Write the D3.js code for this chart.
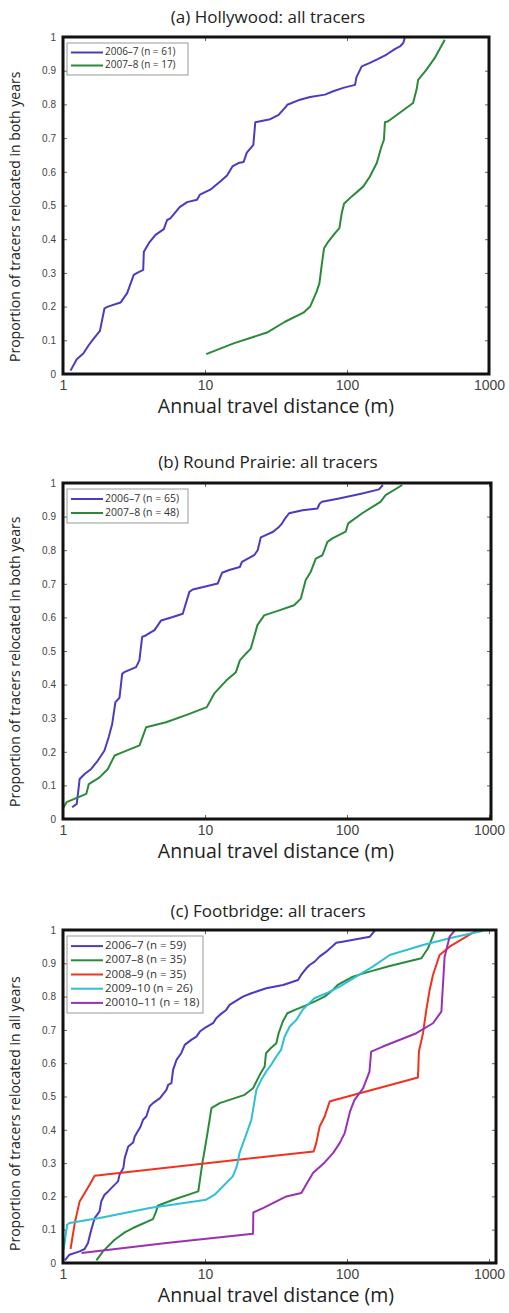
<!DOCTYPE html>
<html>
<head>
<meta charset="utf-8">
<script src="https://cdn.jsdelivr.net/npm/d3@7"></script>
<style>
  body { margin: 0; background: #fff; }
  svg { display: block; font-family: "Open Sans", "Noto Sans", sans-serif; }
  .tick text { fill: #444; }
</style>
</head>
<body>
<div id="chart"></div>
<script>
// Axis ticks
const xTicks = [1, 10, 100, 1000];
const yTicks = [0, 0.1, 0.2, 0.3, 0.4, 0.5, 0.6, 0.7, 0.8, 0.9, 1];

// (a) Hollywood, [distance m, proportion]
const hollywood0607 = [[1.13,0.01],[1.25,0.044],[1.39,0.061],[1.52,0.086],[1.65,0.106],[1.82,0.128],[1.96,0.195],[2.07,0.2],[2.54,0.212],[2.83,0.24],[3.15,0.294],[3.33,0.3],[3.67,0.309],[3.71,0.363],[4.02,0.388],[4.48,0.413],[5.13,0.43],[5.41,0.457],[5.7,0.462],[6.63,0.495],[7.48,0.51],[8.79,0.517],[9.2,0.532],[10.9,0.547],[12.8,0.571],[14.3,0.589],[15.6,0.616],[17.2,0.626],[18.7,0.629],[19.7,0.657],[21.4,0.675],[21.9,0.68],[22.6,0.747],[24.5,0.75],[28.8,0.756],[33,0.769],[37.3,0.794],[38,0.799],[46.7,0.814],[55,0.822],[70,0.829],[80,0.839],[94,0.849],[114,0.858],[116.6,0.881],[127,0.913],[145,0.923],[166,0.935],[190,0.948],[217,0.964],[236,0.972],[249,0.982],[255,0.997]];
const hollywood0708 = [[10.2,0.059],[15.9,0.091],[27.3,0.123],[36.6,0.155],[49.3,0.182],[55,0.2],[61.2,0.245],[63.9,0.269],[66.4,0.324],[68.9,0.373],[73.9,0.393],[82.4,0.418],[88.4,0.433],[91.8,0.477],[95.3,0.505],[108,0.527],[130,0.556],[145,0.586],[162,0.626],[175,0.675],[182,0.695],[185,0.747],[195,0.75],[242,0.779],[292,0.804],[309,0.844],[317,0.873],[363,0.903],[415,0.938],[488,0.992]];

// (b) Round Prairie
const prairie0607 = [[1.16,0.035],[1.25,0.045],[1.31,0.119],[1.42,0.134],[1.58,0.149],[1.76,0.174],[1.96,0.204],[2.1,0.244],[2.22,0.283],[2.34,0.348],[2.5,0.361],[2.61,0.432],[2.7,0.437],[3.27,0.452],[3.45,0.472],[3.61,0.542],[3.85,0.547],[4.41,0.562],[4.91,0.591],[5.93,0.601],[6.97,0.611],[7.76,0.676],[8.2,0.683],[9.9,0.691],[12.3,0.701],[13.2,0.733],[14.8,0.741],[17.6,0.75],[18.2,0.765],[22.2,0.785],[23.5,0.8],[24.7,0.838],[26.8,0.845],[30.2,0.855],[33.3,0.87],[34.9,0.88],[36.7,0.895],[39.1,0.91],[48.6,0.919],[61.9,0.924],[64.3,0.939],[66.7,0.944],[87.9,0.954],[128,0.969],[168,0.981],[179,0.994]];
const prairie0708 = [[1.01,0.035],[1.06,0.05],[1.46,0.075],[1.52,0.104],[1.81,0.124],[2.07,0.149],[2.31,0.189],[2.64,0.199],[3.46,0.219],[3.85,0.273],[5.32,0.288],[7.76,0.313],[10.3,0.333],[11.6,0.373],[14.1,0.412],[16.5,0.437],[17.6,0.472],[19.4,0.492],[21,0.507],[23.4,0.577],[26.1,0.606],[33.3,0.621],[42.4,0.636],[47.3,0.656],[51.2,0.711],[55.6,0.736],[60.3,0.775],[67.1,0.785],[72.8,0.825],[78.9,0.835],[97.9,0.855],[102,0.88],[128,0.91],[172,0.944],[187,0.964],[245,0.994]];

// (c) Footbridge
const foot0607 = [[1.03,0.008],[1.11,0.025],[1.31,0.035],[1.42,0.042],[1.5,0.06],[1.56,0.09],[1.67,0.135],[1.81,0.155],[1.86,0.185],[1.96,0.205],[2.08,0.215],[2.25,0.23],[2.44,0.245],[2.5,0.265],[2.66,0.285],[2.72,0.315],[2.88,0.35],[3.12,0.362],[3.2,0.38],[3.52,0.41],[3.66,0.43],[3.86,0.44],[4.07,0.47],[4.3,0.48],[4.82,0.495],[5.35,0.52],[5.5,0.535],[5.8,0.54],[5.96,0.58],[6.3,0.61],[6.8,0.63],[7.2,0.655],[8.0,0.67],[8.7,0.68],[9.2,0.695],[9.9,0.705],[11.4,0.72],[12,0.735],[12.7,0.745],[14.1,0.76],[14.9,0.775],[16.2,0.785],[18.5,0.8],[21.2,0.81],[27,0.825],[35.5,0.835],[45.2,0.85],[47.5,0.865],[51.7,0.885],[54.5,0.895],[59.2,0.905],[64,0.92],[71.5,0.935],[84,0.962],[93,0.965],[116,0.972],[145,0.98],[157,0.998]];
const foot0708 = [[1.72,0.008],[1.91,0.035],[2.31,0.07],[2.72,0.092],[3.11,0.105],[4.3,0.132],[4.53,0.155],[4.64,0.172],[5.98,0.19],[8.97,0.215],[9.58,0.3],[9.95,0.34],[10.5,0.4],[11.1,0.465],[12.7,0.48],[19,0.505],[21.8,0.525],[24.3,0.565],[26.3,0.59],[26.9,0.63],[29,0.645],[31.8,0.66],[33,0.69],[35.3,0.725],[38,0.75],[43,0.76],[49,0.77],[59,0.785],[69.6,0.8],[79.5,0.82],[86,0.835],[110,0.86],[144,0.875],[200,0.892],[334,0.915],[372,0.945],[414,0.995]];
const foot0809 = [[1.13,0.042],[1.21,0.12],[1.31,0.185],[1.54,0.235],[1.67,0.262],[58.2,0.335],[60.7,0.36],[64.2,0.41],[69.6,0.44],[75.5,0.485],[79.5,0.488],[316,0.557],[321,0.635],[343,0.69],[362,0.76],[382,0.82],[403,0.865],[449,0.925],[528,0.95],[692,0.98],[815,0.998]];
const foot0910 = [[1.01,0.04],[1.07,0.115],[1.11,0.12],[1.81,0.135],[4.08,0.165],[10.2,0.19],[11.7,0.205],[15.7,0.26],[16.8,0.292],[17.5,0.33],[19.3,0.38],[21.2,0.43],[22.4,0.49],[23,0.52],[24.9,0.55],[27,0.575],[29.2,0.595],[31.8,0.62],[34.3,0.64],[36.4,0.68],[39.5,0.71],[44,0.73],[49,0.762],[59,0.795],[71.5,0.81],[88.7,0.83],[116,0.86],[152,0.89],[200,0.925],[343,0.955],[528,0.975],[908,0.998]];
const foot1011 = [[1.35,0.03],[5.35,0.06],[21.8,0.088],[21.9,0.152],[25.6,0.165],[37.4,0.2],[47.7,0.21],[51.5,0.235],[57.6,0.27],[69.6,0.302],[79.7,0.33],[88.8,0.36],[96.3,0.39],[105,0.455],[113,0.49],[130,0.525],[144,0.575],[148,0.635],[179,0.65],[308,0.69],[403,0.72],[462,0.755],[487,0.92],[528,0.98],[573,0.998]];

const panels = [
  { title: "(a) Hollywood: all tracers", ylabel: "Proportion of tracers relocated in both years",
    top: 37, bottom: 374, right: 489, titleY: 18, legendTop: 43, legendRow: 13, legendW: 121, legendFont: 10,
    series: [
      { name: "2006\u20137 (n = 61)", color: "#4a3cc0", data: hollywood0607 },
      { name: "2007\u20138 (n = 17)", color: "#2b8a3a", data: hollywood0708 }
    ] },
  { title: "(b) Round Prairie: all tracers", ylabel: "Proportion of tracers relocated in both years",
    top: 483, bottom: 819, right: 491, titleY: 463, legendTop: 489, legendRow: 14, legendW: 121, legendFont: 10.5,
    series: [
      { name: "2006\u20137 (n = 65)", color: "#4a3cc0", data: prairie0607 },
      { name: "2007\u20138 (n = 48)", color: "#2b8a3a", data: prairie0708 }
    ] },
  { title: "(c) Footbridge: all tracers", ylabel: "Proportion of tracers relocated in all years",
    top: 930, bottom: 1263, right: 496, titleY: 912, legendTop: 936, legendRow: 14.2, legendW: 136, legendFont: 11.5,
    series: [
      { name: "2006\u20137 (n = 59)", color: "#4a3cc0", data: foot0607 },
      { name: "2007\u20138 (n = 35)", color: "#2b8a3a", data: foot0708 },
      { name: "2008\u20139 (n = 35)", color: "#f0321e", data: foot0809 },
      { name: "2009\u201310 (n = 26)", color: "#2ec0d4", data: foot0910 },
      { name: "20010\u201311 (n = 18)", color: "#9a30b4", data: foot1011 }
    ] }
];

const left = 63;
const svg = d3.select("#chart").append("svg")
  .attr("width", 509)
  .attr("height", 1313);

panels.forEach(p => {
  const x = d3.scaleLog().domain([1, 1000]).range([left, 489]);
  const y = d3.scaleLinear().domain([0, 1]).range([p.bottom, p.top]);
  const g = svg.append("g");

  // panel title
  g.append("text")
    .attr("x", 268).attr("y", p.titleY)
    .attr("text-anchor", "middle").attr("dominant-baseline", "middle")
    .style("font-size", "17px").style("fill", "#222")
    .text(p.title);

  // y axis with inward ticks
  g.append("g")
    .attr("transform", `translate(${left},0)`)
    .call(d3.axisLeft(y).tickValues(yTicks).tickSize(-4).tickPadding(7)
      .tickFormat(d => d === 0 ? "0" : d === 1 ? "1" : d3.format(".1f")(d)))
    .call(a => a.select(".domain").remove())
    .call(a => a.selectAll(".tick line").attr("stroke", "#666"))
    .call(a => a.selectAll(".tick text").style("font-size", "10px").style("font-family", "inherit"));

  g.append("g")
    .attr("transform", `translate(${p.right},0)`)
    .call(d3.axisRight(y).tickValues(yTicks).tickSize(-4).tickFormat(""))
    .call(a => a.select(".domain").remove())
    .call(a => a.selectAll(".tick line").attr("stroke", "#666"));

  // x axis
  g.append("g")
    .attr("transform", `translate(0,${p.bottom})`)
    .call(d3.axisBottom(x).tickValues(xTicks).tickSize(-4).tickPadding(6).tickFormat(d3.format("d")))
    .call(a => a.select(".domain").remove())
    .call(a => a.selectAll(".tick line").attr("stroke", "#666"))
    .call(a => a.selectAll(".tick text").style("font-size", "14px").style("font-family", "inherit"));

  g.append("g")
    .attr("transform", `translate(0,${p.top})`)
    .call(d3.axisTop(x).tickValues(xTicks).tickSize(-4).tickFormat(""))
    .call(a => a.select(".domain").remove())
    .call(a => a.selectAll(".tick line").attr("stroke", "#666"));

  // x axis title
  g.append("text")
    .attr("x", 276).attr("y", p.bottom + 34)
    .attr("text-anchor", "middle").attr("dominant-baseline", "middle")
    .style("font-size", "19.5px").style("fill", "#222")
    .text("Annual travel distance (m)");

  // y axis title
  g.append("text")
    .attr("transform", `translate(16,${p.bottom - 12}) rotate(-90)`)
    .attr("text-anchor", "start").attr("dominant-baseline", "middle")
    .style("font-size", "14px").style("fill", "#222")
    .text(p.ylabel);

  // curves
  const line = d3.line().x(d => x(d[0])).y(d => y(d[1]));
  g.append("g")
    .selectAll("path")
    .data(p.series)
    .join("path")
    .attr("d", d => line(d.data))
    .attr("fill", "none")
    .attr("stroke", d => d.color)
    .attr("stroke-width", 2)
    .attr("stroke-linejoin", "round");

  // legend
  const lg = g.append("g");
  lg.append("rect")
    .attr("x", 67).attr("y", p.legendTop)
    .attr("width", p.legendW).attr("height", p.series.length * p.legendRow + 6)
    .attr("fill", "#fff").attr("stroke", "#999").attr("stroke-width", 1);
  const items = lg.selectAll("g.item")
    .data(p.series)
    .join("g")
    .attr("class", "item")
    .attr("transform", (d, i) => `translate(0,${p.legendTop + 3 + p.legendRow * (i + 0.5)})`);
  items.append("line")
    .attr("x1", 71).attr("x2", 103)
    .attr("stroke", d => d.color).attr("stroke-width", 2);
  items.append("text")
    .attr("x", 105)
    .attr("dominant-baseline", "middle")
    .style("font-size", p.legendFont + "px").style("fill", "#333")
    .text(d => d.name);

  // frame
  g.append("rect")
    .attr("x", left).attr("y", p.top)
    .attr("width", p.right - left).attr("height", p.bottom - p.top)
    .attr("fill", "none").attr("stroke", "#111").attr("stroke-width", 3);
});
</script>
</body>
</html>
